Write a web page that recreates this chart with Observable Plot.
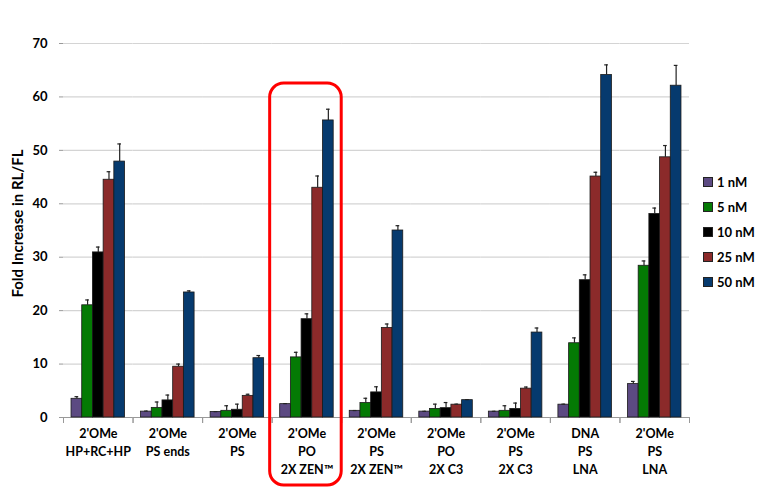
<!DOCTYPE html>
<html>
<head>
<meta charset="utf-8">
<script src="https://cdn.jsdelivr.net/npm/d3@7"></script>
<script src="https://cdn.jsdelivr.net/npm/@observablehq/plot@0.6"></script>
<style>
  html, body { margin: 0; padding: 0; background: #fff; }
  #wrap { position: relative; width: 770px; height: 488px; font-family: Lato, "Open Sans", sans-serif; }
  #legend { position: absolute; left: 703px; top: 169px; font-weight: bold; font-size: 13px; color: #000; }
  #legend .item { display: flex; align-items: center; height: 25px; }
  #legend .sw { width: 8px; height: 8px; border: 1px solid #222; margin-right: 4px; }
</style>
</head>
<body>
<div id="wrap"></div>
<script>
const groups = [
  "2'OMe\nHP+RC+HP", "2'OMe\nPS ends", "2'OMe\nPS", "2'OMe\nPO\n2X ZEN™",
  "2'OMe\nPS\n2X ZEN™", "2'OMe\nPO\n2X C3", "2'OMe\nPS\n2X C3", "DNA\nPS\nLNA", "2'OMe\nPS\nLNA"
];
const series = ["1 nM", "5 nM", "10 nM", "25 nM", "50 nM"];
const colors = ["#5c4a82", "#047a04", "#000000", "#8b2a2a", "#063a6e"];

const v1nM  = [3.5, 1.1, 1.05, 2.5, 1.25, 1.1, 1.1, 2.4, 6.25];
const v5nM  = [21.0, 1.8, 1.25, 11.25, 2.7, 1.6, 1.25, 13.9, 28.4];
const v10nM = [30.9, 3.2, 1.45, 18.4, 4.7, 1.75, 1.6, 25.7, 38.1];
const v25nM = [44.5, 9.5, 4.05, 43.0, 16.75, 2.4, 5.4, 45.1, 48.7];
const v50nM = [47.9, 23.4, 11.1, 55.6, 35.0, 3.25, 15.9, 64.1, 62.1];

const e1nM  = [0.4, 0.1, 0.05, 0.1, 0.05, 0.05, 0.05, 0.1, 0.5];
const e5nM  = [1.0, 1.1, 0.95, 0.95, 0.9, 0.9, 0.95, 1.0, 0.9];
const e10nM = [1.0, 1.0, 1.05, 1.0, 1.05, 1.05, 1.1, 1.0, 1.1];
const e25nM = [1.5, 0.5, 0.3, 2.2, 0.75, 0.1, 0.3, 0.8, 2.2];
const e50nM = [3.3, 0.3, 0.5, 2.1, 0.9, 0.1, 0.85, 1.9, 3.8];

const yTicks = [0, 10, 20, 30, 40, 50, 60, 70];
const highlightGroup = groups[3];
const highlightTop = 62.5;

const values = [v1nM, v5nM, v10nM, v25nM, v50nM];
const errors = [e1nM, e5nM, e10nM, e25nM, e50nM];
const data = [];
groups.forEach((g, gi) => series.forEach((s, si) => {
  data.push({group: g, series: s, value: values[si][gi], err: values[si][gi] + errors[si][gi]});
}));

const font = "Lato, 'Open Sans', sans-serif";

const chart = Plot.plot({
  width: 770,
  height: 488,
  marginLeft: 63,
  marginRight: 81,
  marginTop: 43,
  marginBottom: 71,
  style: {fontFamily: font, fontSize: "12px", fontWeight: "bold", color: "#000", background: "#fff", overflow: "visible"},
  fx: {domain: groups, paddingInner: 0, paddingOuter: 0, round: false, axis: null},
  x: {domain: series, paddingInner: 0, paddingOuter: 0.75, round: false, axis: null},
  y: {domain: [0, 70], axis: null},
  color: {domain: series, range: colors},
  marks: [
    Plot.gridY(yTicks, {stroke: "#d4d4d4", strokeOpacity: 1, strokeWidth: 1.2}),
    Plot.axisY(yTicks, {
      tickSize: 4, tickPadding: 12, stroke: "#999", fontSize: 13, fontWeight: "bold",
      tickFormat: d => d, label: null, line: true
    }),
    Plot.axisY([], {anchor: "right", tickSize: 0, stroke: "#bbb", label: null, line: true}),
    Plot.ruleY([0], {stroke: "#999"}),
    Plot.frame({anchor: "left", stroke: "#999", insetTop: 374, insetBottom: -5}),
    Plot.frame({anchor: "right", stroke: "#999", insetTop: 374, insetBottom: -5}),
    Plot.barY(data, {fx: "group", x: "series", y: "value", fill: "series", stroke: "#1a1a1a", strokeWidth: 0.8}),
    Plot.ruleX(data, {fx: "group", x: "series", y1: "value", y2: "err", stroke: "#222", strokeWidth: 1.2}),
    Plot.tickY(data, {fx: "group", x: "series", y: "err", stroke: "#222", strokeWidth: 1.2, insetLeft: 3.5, insetRight: 3.5}),
    Plot.text(groups, {fx: d => d, text: d => d, frameAnchor: "bottom", lineAnchor: "top", dy: 8,
      lineHeight: 1.42, fontSize: 12.5, fontWeight: "bold", fill: "#000"}),
    Plot.rect([highlightGroup], {fx: d => d, y1: highlightTop, y2: 0, insetBottom: -68, insetLeft: -2, insetRight: 0,
      rx: 14, fill: "none", stroke: "#ff0000", strokeWidth: 3}),
    Plot.text([groups[0]], {fx: d => d, text: () => "Fold Increase in RL/FL", frameAnchor: "left", textAnchor: "middle",
      rotate: -90, dx: -45, dy: -7, fontSize: 15, fontWeight: "bold", fill: "#000"})
  ]
});

const wrap = document.getElementById("wrap");
wrap.appendChild(chart);

const legend = document.createElement("div");
legend.id = "legend";
series.forEach((s, i) => {
  const item = document.createElement("div");
  item.className = "item";
  const sw = document.createElement("span");
  sw.className = "sw";
  sw.style.background = colors[i];
  const label = document.createElement("span");
  label.textContent = s;
  item.appendChild(sw);
  item.appendChild(label);
  legend.appendChild(item);
});
wrap.appendChild(legend);
</script>
</body>
</html>
